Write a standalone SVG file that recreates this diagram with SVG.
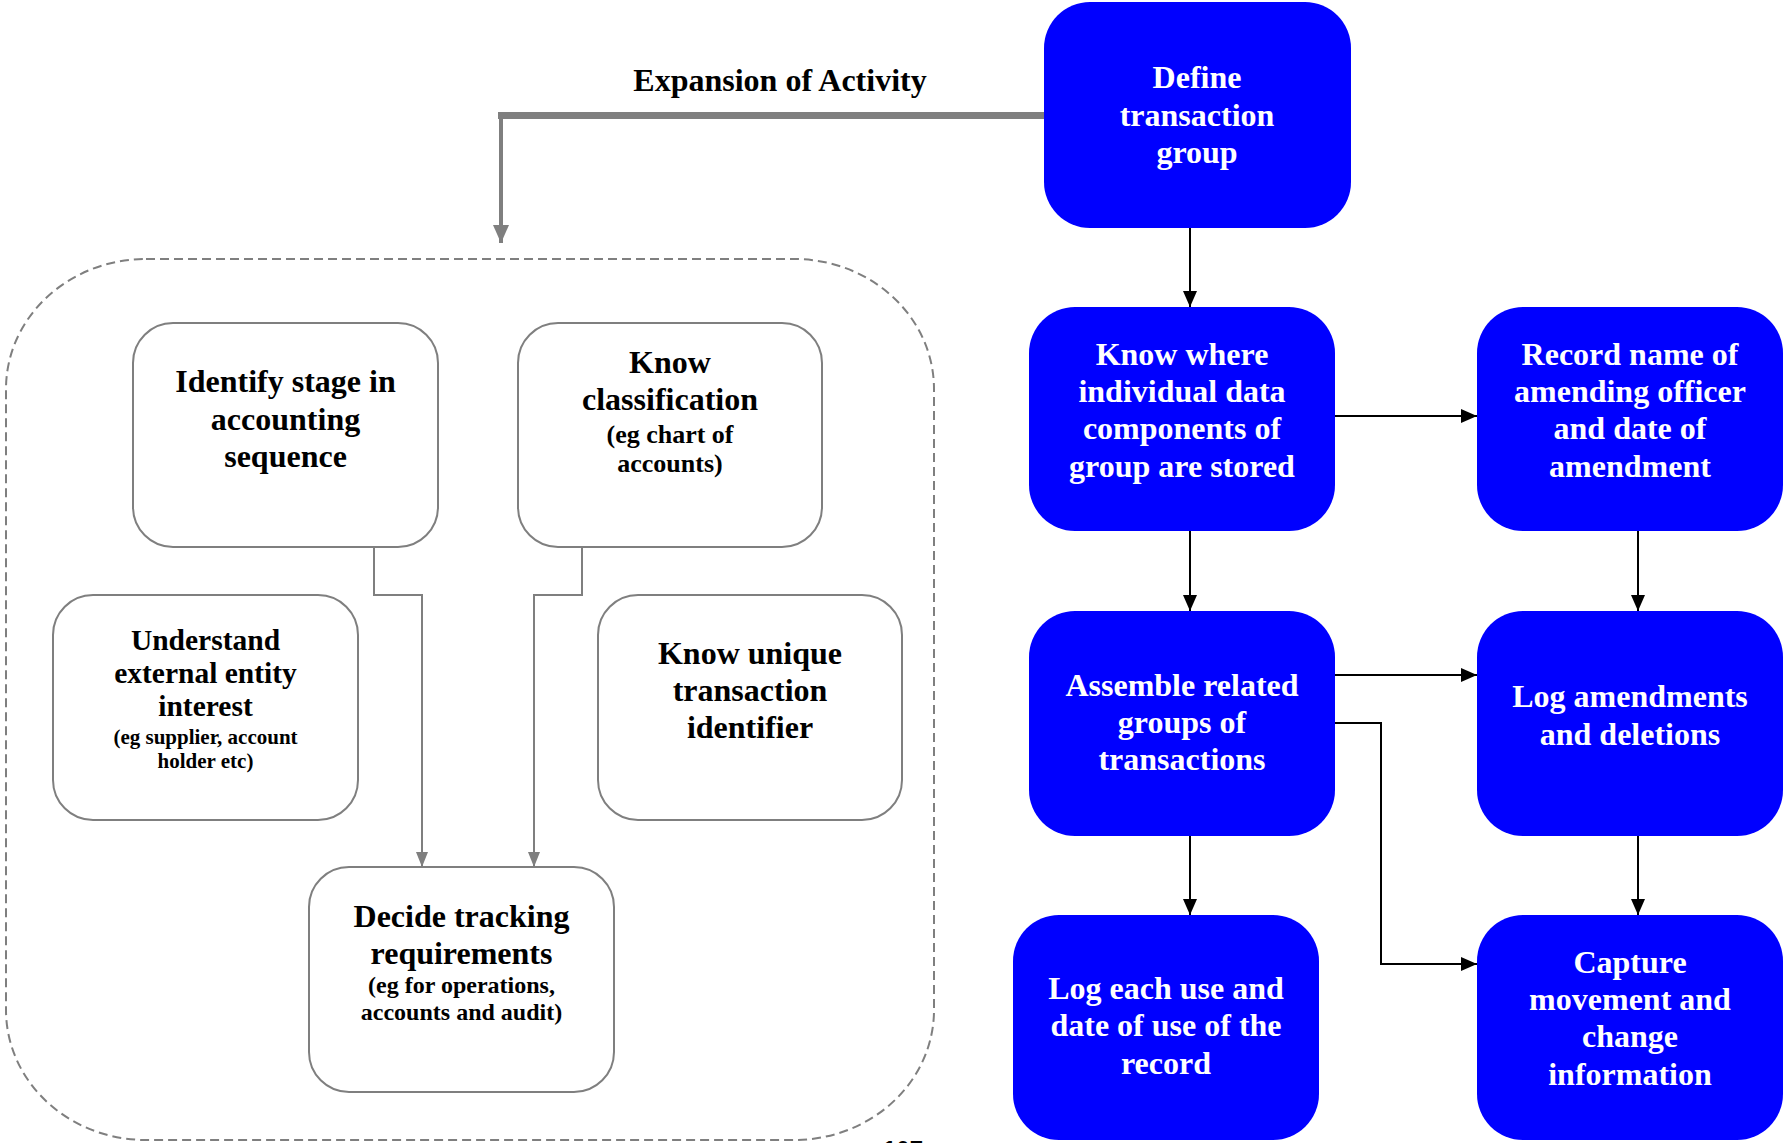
<svg xmlns="http://www.w3.org/2000/svg" width="1784" height="1143" viewBox="0 0 1784 1143">
  <defs>
    <style>
      .blue { fill: #0000FF; }
      .grey { fill: #FFFFFF; stroke: #7F7F7F; stroke-width: 2; }
      .t { font-family: "Liberation Serif", "Times New Roman", serif; font-weight: bold; text-anchor: middle; }
      .w { fill: #FFFFFF; font-size: 32px; }
      .k { fill: #000000; font-size: 32px; }
      .flow { fill: none; stroke: #000000; stroke-width: 2; }
      .sub { fill: none; stroke: #7F7F7F; stroke-width: 2; }
    </style>
    <marker id="blk" markerUnits="userSpaceOnUse" markerWidth="16" markerHeight="14" refX="16" refY="7" orient="auto">
      <path d="M0,0 L16,7 L0,14 z" fill="#000000"/>
    </marker>
    <marker id="gry" markerUnits="userSpaceOnUse" markerWidth="15" markerHeight="12" refX="15" refY="6" orient="auto">
      <path d="M0,0 L15,6 L0,12 z" fill="#7F7F7F"/>
    </marker>
    <marker id="gryBig" markerUnits="userSpaceOnUse" markerWidth="18" markerHeight="16" refX="18" refY="8" orient="auto">
      <path d="M0,0 L18,8 L0,16 z" fill="#7F7F7F"/>
    </marker>
  </defs>

  <rect width="1784" height="1143" fill="#FFFFFF"/>

  <!-- dashed boundary of the expanded activity -->
  <rect id="expansion-area" x="6" y="259" width="928" height="881" rx="140" ry="130" fill="none" stroke="#7F7F7F" stroke-width="2" stroke-dasharray="9,5"/>

  <text class="t k" x="780" y="91">Expansion of Activity</text>

  <!-- connectors -->
  <g id="connectors">
    <line x1="1045" y1="115.5" x2="498" y2="115.5" stroke="#7F7F7F" stroke-width="7"/>
    <line x1="501" y1="112" x2="501" y2="243" stroke="#7F7F7F" stroke-width="4" marker-end="url(#gryBig)"/>

    <line class="flow" x1="1190" y1="228" x2="1190" y2="307" marker-end="url(#blk)"/>
    <line class="flow" x1="1335" y1="416" x2="1477" y2="416" marker-end="url(#blk)"/>
    <line class="flow" x1="1190" y1="531" x2="1190" y2="611" marker-end="url(#blk)"/>
    <line class="flow" x1="1638" y1="531" x2="1638" y2="611" marker-end="url(#blk)"/>
    <line class="flow" x1="1335" y1="675" x2="1477" y2="675" marker-end="url(#blk)"/>
    <polyline class="flow" points="1335,723 1381,723 1381,964 1477,964" marker-end="url(#blk)"/>
    <line class="flow" x1="1190" y1="836" x2="1190" y2="915" marker-end="url(#blk)"/>
    <line class="flow" x1="1638" y1="836" x2="1638" y2="915" marker-end="url(#blk)"/>

    <polyline class="sub" points="374,547 374,595 422,595 422,867" marker-end="url(#gry)"/>
    <polyline class="sub" points="582,547 582,595 534,595 534,867" marker-end="url(#gry)"/>
  </g>

  <!-- main flow -->
  <g id="define-group">
    <rect class="blue" x="1044" y="2" width="307" height="226" rx="46"/>
    <text class="t w" x="1197" y="88">Define</text>
    <text class="t w" x="1197" y="126">transaction</text>
    <text class="t w" x="1197" y="163">group</text>
  </g>

  <g id="know-where">
    <rect class="blue" x="1029" y="307" width="306" height="224" rx="46"/>
    <text class="t w" x="1182" y="365">Know where</text>
    <text class="t w" x="1182" y="402">individual data</text>
    <text class="t w" x="1182" y="439">components of</text>
    <text class="t w" x="1182" y="477">group are stored</text>
  </g>

  <g id="record-name">
    <rect class="blue" x="1477" y="307" width="306" height="224" rx="46"/>
    <text class="t w" x="1630" y="365">Record name of</text>
    <text class="t w" x="1630" y="402">amending officer</text>
    <text class="t w" x="1630" y="439">and date of</text>
    <text class="t w" x="1630" y="477">amendment</text>
  </g>

  <g id="assemble">
    <rect class="blue" x="1029" y="611" width="306" height="225" rx="46"/>
    <text class="t w" x="1182" y="696">Assemble related</text>
    <text class="t w" x="1182" y="733">groups of</text>
    <text class="t w" x="1182" y="770">transactions</text>
  </g>

  <g id="log-amendments">
    <rect class="blue" x="1477" y="611" width="306" height="225" rx="46"/>
    <text class="t w" x="1630" y="707">Log amendments</text>
    <text class="t w" x="1630" y="745">and deletions</text>
  </g>

  <g id="log-use">
    <rect class="blue" x="1013" y="915" width="306" height="225" rx="46"/>
    <text class="t w" x="1166" y="999">Log each use and</text>
    <text class="t w" x="1166" y="1036">date of use of the</text>
    <text class="t w" x="1166" y="1074">record</text>
  </g>

  <g id="capture-movement">
    <rect class="blue" x="1477" y="915" width="306" height="225" rx="46"/>
    <text class="t w" x="1630" y="973">Capture</text>
    <text class="t w" x="1630" y="1010">movement and</text>
    <text class="t w" x="1630" y="1047">change</text>
    <text class="t w" x="1630" y="1085">information</text>
  </g>

  <!-- expanded activity -->
  <g id="identify-stage">
    <rect class="grey" x="133" y="323" width="305" height="224" rx="40"/>
    <text class="t k" x="285.5" y="392">Identify stage in</text>
    <text class="t k" x="285.5" y="430">accounting</text>
    <text class="t k" x="285.5" y="467">sequence</text>
  </g>

  <g id="know-classification">
    <rect class="grey" x="518" y="323" width="304" height="224" rx="40"/>
    <text class="t k" x="670" y="373">Know</text>
    <text class="t k" x="670" y="410">classification</text>
    <text class="t" x="670" y="443" font-size="26">(eg chart of</text>
    <text class="t" x="670" y="472" font-size="26">accounts)</text>
  </g>

  <g id="understand-entity">
    <rect class="grey" x="53" y="595" width="305" height="225" rx="40"/>
    <text class="t" x="205.5" y="650" font-size="29.5">Understand</text>
    <text class="t" x="205.5" y="683" font-size="29.5">external entity</text>
    <text class="t" x="205.5" y="716" font-size="29.5">interest</text>
    <text class="t" x="205.5" y="744" font-size="21">(eg supplier, account</text>
    <text class="t" x="205.5" y="768" font-size="21">holder etc)</text>
  </g>

  <g id="know-identifier">
    <rect class="grey" x="598" y="595" width="304" height="225" rx="40"/>
    <text class="t k" x="750" y="664">Know unique</text>
    <text class="t k" x="750" y="701">transaction</text>
    <text class="t k" x="750" y="738">identifier</text>
  </g>

  <g id="decide-tracking">
    <rect class="grey" x="309" y="867" width="305" height="225" rx="40"/>
    <text class="t k" x="461.5" y="927">Decide tracking</text>
    <text class="t k" x="461.5" y="964">requirements</text>
    <text class="t" x="461.5" y="993" font-size="24">(eg for operations,</text>
    <text class="t" x="461.5" y="1020" font-size="24">accounts and audit)</text>
  </g>

  <!-- page number, running off the lower edge -->
  <text x="883" y="1158" font-family="Liberation Sans, Arial, sans-serif" font-weight="bold" font-size="24">107</text>
</svg>
